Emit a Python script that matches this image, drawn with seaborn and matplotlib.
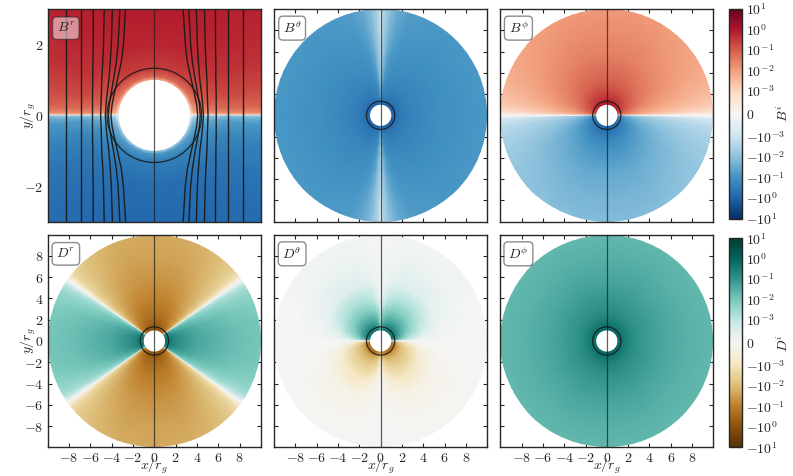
import numpy as np
import matplotlib
matplotlib.use("Agg")
import matplotlib.pyplot as plt
from matplotlib.cm import ScalarMappable
from matplotlib.colors import SymLogNorm
from matplotlib.patches import Circle
import seaborn as sns

# radii and polar angles (deg from +y) that the tables below were read at
br_r = [1.0, 1.1, 1.3, 2, 3, 5]
br_theta = [0, 15, 30, 45, 60, 75, 85, 88, 89, 89.7, 90]
br_upper = [
    [.004, .0039, .0035, .0028, .002, .001, .0005, .0003, .0002, .0001, 0],
    [.07, .068, .06, .05, .035, .018, .006, .0025, .0012, .0004, 0],
    [.27, .26, .234, .19, .135, .07, .023, .0095, .0047, .0014, 0],
    [.62, .6, .54, .44, .31, .16, .054, .022, .011, .0031, 0],
    [.82, .79, .71, .58, .41, .21, .071, .029, .014, .0041, 0],
    [.95, .92, .82, .67, .475, .25, .083, .033, .017, .0048, 0],
]

disk_r = [1, 1.15, 1.35, 1.7, 2.2, 3, 4, 5.5, 7.5, 11]

bth_theta = [0, 1, 3, 6, 10, 16, 25, 35, 50, 70, 90]
bth_upper = [
    [-.3, -.6, -.8, -.9, -1, -1, -1, -1, -1, -1, -1],
    [-.08, -.25, -.5, -.65, -.72, -.78, -.82, -.85, -.85, -.85, -.85],
    [-.02, -.1, -.22, -.35, -.45, -.55, -.6, -.63, -.65, -.65, -.65],
    [-.008, -.05, -.12, -.2, -.28, -.34, -.38, -.4, -.42, -.42, -.42],
    [-.004, -.03, -.08, -.14, -.2, -.25, -.28, -.3, -.3, -.3, -.3],
    [-.002, -.015, -.04, -.1, -.15, -.18, -.2, -.21, -.21, -.21, -.21],
    [-.0014, -.008, -.02, -.06, -.1, -.13, -.145, -.15, -.155, -.155, -.155],
    [-.001, -.005, -.012, -.04, -.075, -.1, -.11, -.115, -.115, -.115, -.115],
    [-.0006, -.003, -.007, -.02, -.045, -.07, -.082, -.087, -.088, -.088, -.088],
    [-.0003, -.0015, -.0045, -.012, -.027, -.05, -.06, -.064, -.065, -.065, -.065],
]

bph_theta = [0, 15, 30, 45, 60, 70, 78, 84, 88, 90]
bph_upper = [
    [1.4, 1.4, 1.3, 1.2, .95, .7, .42, .24, .1, 0],
    [.9, .9, .8, .65, .5, .35, .21, .12, .05, 0],
    [.6, .6, .54, .44, .33, .23, .14, .08, .033, 0],
    [.37, .36, .32, .26, .2, .14, .086, .046, .02, 0],
    [.21, .21, .186, .15, .114, .08, .05, .027, .012, 0],
    [.1, .1, .088, .072, .054, .038, .023, .013, .0055, 0],
    [.06, .06, .054, .044, .033, .023, .014, .0077, .0033, 0],
    [.033, .033, .03, .024, .018, .0126, .0078, .0042, .0018, 0],
    [.02, .02, .018, .0144, .0108, .0076, .0047, .0025, .0011, 0],
    [.011, .011, .0098, .008, .006, .0042, .0026, .0014, .0006, 0],
]

dr_theta = [0, 10, 20, 30, 40, 47, 51, 53, 54.7, 56.5, 58.5, 62, 70, 80, 90]
dr_upper = [
    [-1, -.95, -.85, -.65, -.38, -.2, -.08, -.03, 0, .03, .08, .17, .38, .52, .56],
    [-.85, -.81, -.72, -.55, -.32, -.17, -.068, -.026, 0, .026, .068, .145, .32, .44, .48],
    [-.65, -.62, -.55, -.42, -.25, -.13, -.052, -.02, 0, .02, .052, .11, .25, .34, .36],
    [-.42, -.4, -.36, -.27, -.16, -.084, -.034, -.013, 0, .013, .034, .071, .16, .22, .235],
    [-.24, -.23, -.2, -.156, -.091, -.048, -.019, -.0072, 0, .0072, .019, .041, .091, .125, .134],
    [-.14, -.133, -.119, -.091, -.053, -.028, -.011, -.0042, 0, .0042, .011, .024, .053, .073, .078],
    [-.085, -.081, -.072, -.055, -.032, -.017, -.0068, -.0026, 0, .0026, .0068, .0145, .032, .044, .048],
    [-.05, -.048, -.043, -.033, -.019, -.01, -.004, -.0015, 0, .0015, .004, .0085, .019, .026, .028],
    [-.03, -.029, -.026, -.02, -.0114, -.006, -.0024, -.0009, 0, .0009, .0024, .0051, .0114, .0156, .0168],
    [-.018, -.017, -.015, -.012, -.0068, -.0036, -.0014, -.00054, 0, .00054, .0014, .0031, .0068, .0094, .0101],
]

dth_r = [1, 1.15, 1.35, 1.7, 2, 2.5, 3, 3.5, 4, 5.5, 8, 11]
dth_theta = [0, 4, 10, 20, 30, 45, 60, 75, 85, 90]
dth_upper = [
    [.05, .1, .2, .4, .5, .55, .5, .4, .15, 0],
    [.02, .07, .15, .3, .4, .45, .42, .3, .1, 0],
    [.008, .04, .1, .2, .28, .32, .3, .2, .06, 0],
    [.002, .015, .05, .09, .11, .13, .11, .06, .015, 0],
    [.0008, .01, .03, .045, .055, .06, .05, .025, .005, 0],
    [.0005, .005, .012, .018, .02, .022, .017, .007, .0015, 0],
    [.0003, .002, .005, .008, .009, .01, .007, .003, .0007, 0],
    [.0002, .0008, .002, .0035, .0045, .0045, .003, .0014, .0004, 0],
    [.0001, .0005, .0011, .0018, .002, .002, .0014, .0007, .0002, 0],
    [.00005, .00015, .0003, .0005, .0005, .0005, .0003, .00015, .00005, 0],
    [.00002, .00005, .0001, .00015, .00015, .00012, .00006, .00003, .00001, 0],
    [0, .00002, .00003, .00004, .00004, .00003, .00002, .00001, 0, 0],
]
dth_lower = [
    [-.03, -.06, -.12, -.2, -.3, -.35, -.35, -.3, -.2, 0],
    [-.015, -.035, -.07, -.12, -.18, -.2, -.2, -.18, -.1, 0],
    [-.005, -.012, -.03, -.05, -.07, -.085, -.085, -.07, -.03, 0],
    [-.001, -.003, -.008, -.015, -.02, -.024, -.024, -.018, -.007, 0],
    [-.0004, -.0015, -.004, -.008, -.011, -.012, -.012, -.008, -.003, 0],
    [-.0002, -.0008, -.002, -.0035, -.005, -.0055, -.005, -.003, -.0009, 0],
    [-.00015, -.0005, -.001, -.002, -.0026, -.003, -.0024, -.0014, -.0004, 0],
    [-.0001, -.0003, -.0006, -.0012, -.0015, -.0016, -.0013, -.0007, -.0002, 0],
    [-.00005, -.0002, -.0004, -.0007, -.0009, -.0009, -.0007, -.0004, -.0001, 0],
    [-.00002, -.00008, -.00015, -.00025, -.0003, -.0003, -.0002, -.0001, -.00003, 0],
    [-.00001, -.00002, -.00005, -.00008, -.0001, -.00008, -.00005, -.00002, -.00001, 0],
    [0, -.00001, -.00002, -.00002, -.00002, -.00002, -.00001, -.00001, 0, 0],
]

dph_theta = [0, 15, 30, 45, 60, 75, 90]
dph_upper = [
    [.9, .88, .84, .8, .76, .72, .7],
    [.72, .7, .67, .64, .61, .59, .58],
    [.55, .54, .52, .5, .48, .47, .46],
    [.37, .36, .34, .33, .32, .31, .3],
    [.22, .215, .2, .19, .18, .175, .17],
    [.13, .125, .118, .11, .105, .102, .1],
    [.085, .083, .078, .074, .071, .069, .068],
    [.052, .051, .049, .047, .045, .044, .043],
    [.032, .032, .031, .03, .029, .028, .028],
    [.018, .018, .018, .018, .018, .018, .018],
]

# field lines in the first panel: |x| of each line at these heights above the midplane
line_y = [0, 0.3, 0.6, 1, 1.5, 2, 3]
line_x = [
    [2.49, 2.49, 2.49, 2.49, 2.49, 2.49, 2.49],
    [2.07, 2.07, 2.07, 2.07, 2.07, 2.07, 2.07],
    [1.74, 1.74, 1.74, 1.73, 1.73, 1.72, 1.72],
    [1.51, 1.50, 1.49, 1.48, 1.45, 1.43, 1.41],
    [1.38, 1.36, 1.33, 1.28, 1.24, 1.21, 1.18],
    [1.29, 1.27, 1.22, 1.15, 1.07, 1.02, 0.97],
    [1.22, 1.19, 1.13, 1.04, 0.93, 0.87, 0.81],
]
center_line_x = [0, 0]
center_line_y = [-10, 10]

names = ["$B^r$", r"$B^\theta$", r"$B^\phi$", "$D^r$", r"$D^\theta$", r"$D^\phi$"]
disk_ticks = [-8, -6, -4, -2, 0, 2, 4, 6, 8]
zoom_ticks = [-2, 0, 2]
cbar_ticks = [10, 1, .1, .01, .001, 0, -.001, -.01, -.1, -1, -10]
cbar_labels = ["$10^{1}$", "$10^{0}$", "$10^{-1}$", "$10^{-2}$", "$10^{-3}$", "$0$",
               "$-10^{-3}$", "$-10^{-2}$", "$-10^{-1}$", "$-10^{0}$", "$-10^{1}$"]

sns.set_theme(style="ticks", rc={
    "mathtext.fontset": "cm",
    "font.size": 10,
    "axes.linewidth": 1.0,
    "xtick.direction": "in",
    "ytick.direction": "in",
    "xtick.top": True,
    "ytick.right": True,
    "xtick.major.width": 0.8,
    "ytick.major.width": 0.8,
})

W, H = 793, 476
fig = plt.figure(figsize=(W / 100, H / 100), dpi=100)


def px_axes(left, top, right, bottom):
    return fig.add_axes([left / W, 1 - bottom / H, (right - left) / W, (bottom - top) / H])


def draw_field(ax, r, theta, upper, lower, cmap, norm, rmax):
    r = np.array(r, dtype=float)
    theta = np.array(theta, dtype=float)
    upper = np.array(upper, dtype=float)
    lower = np.array(lower, dtype=float)
    t = np.radians(np.concatenate([theta, 180 - theta[::-1][1:]]))
    vals = np.hstack([upper, lower[:, ::-1][:, 1:]])
    rr, tt = np.meshgrid(r, t, indexing="ij")
    disk = Circle((0, 0), rmax, transform=ax.transData)
    for side in (1, -1):
        mesh = ax.pcolormesh(side * rr * np.sin(tt), rr * np.cos(tt), vals,
                             shading="gouraud", cmap=cmap, norm=norm, zorder=1)
        mesh.set_clip_path(disk)
    ax.add_patch(Circle((0, 0), 1.0, fc="white", ec="none", zorder=2))


def decorate(ax, name, lim, ticks, show_x, show_y):
    sns.lineplot(x=center_line_x, y=center_line_y, sort=False, estimator=None, ax=ax,
                 color="k", lw=0.9, alpha=0.7, zorder=3)
    ax.add_patch(Circle((0, 0), 1.33, fc="none", ec="k", lw=0.9, alpha=0.9, zorder=3))
    ax.set_xlim(-lim, lim)
    ax.set_ylim(-lim, lim)
    ax.set_xticks(ticks)
    ax.set_yticks(ticks)
    labels = [f"${v}$" for v in ticks]
    ax.set_xticklabels(labels if show_x else [])
    ax.set_yticklabels(labels if show_y else [])
    ax.set_xlabel("$x/r_g$" if show_x else "", fontsize=10, labelpad=-6)
    ax.set_ylabel("$y/r_g$" if show_y else "", fontsize=10, labelpad=-10)
    ax.tick_params(labelsize=10, length=3, pad=3)
    ax.text(0.085, 0.91, name, transform=ax.transAxes, fontsize=10, ha="center", va="center",
            zorder=5, bbox=dict(boxstyle="round,pad=0.3", fc="white", ec="k", lw=1, alpha=0.5))


def add_cbar(left, top, right, bottom, cmap, norm, label):
    cax = px_axes(left, top, right, bottom)
    cb = fig.colorbar(ScalarMappable(norm=norm, cmap=cmap), cax=cax)
    cb.set_ticks(cbar_ticks)
    cb.set_ticklabels(cbar_labels)
    cb.ax.minorticks_off()
    cb.ax.tick_params(labelsize=10, length=3, width=0.8, direction="in", pad=3, right=True, left=False)
    cb.outline.set_linewidth(1.0)
    cb.set_label(label, fontsize=10, labelpad=-7)


norm = SymLogNorm(linthresh=1e-3, linscale=1, vmin=-10, vmax=10, base=10)
cmap_b = sns.color_palette("RdBu_r", as_cmap=True)
cmap_d = sns.color_palette("BrBG", as_cmap=True)

cols = [(47.7, 261), (274, 487.3), (500.3, 713.3)]
rows = [(9, 221.7), (234.7, 447.3)]

fields = [
    (br_r, br_theta, br_upper, -np.array(br_upper), cmap_b, 5),
    (disk_r, bth_theta, bth_upper, bth_upper, cmap_b, 10),
    (disk_r, bph_theta, bph_upper, -np.array(bph_upper), cmap_b, 10),
    (disk_r, dr_theta, dr_upper, dr_upper, cmap_d, 10),
    (dth_r, dth_theta, dth_upper, dth_lower, cmap_d, 10),
    (disk_r, dph_theta, dph_upper, dph_upper, cmap_d, 10),
]

for i, (r, theta, upper, lower, cmap, rmax) in enumerate(fields):
    row, col = divmod(i, 3)
    ax = px_axes(cols[col][0], rows[row][0], cols[col][1], rows[row][1])
    draw_field(ax, r, theta, upper, lower, cmap, norm, rmax)
    if i == 0:
        for line in line_x:
            ys = np.concatenate([-np.array(line_y[::-1]), line_y[1:]])
            xs = np.concatenate([line[::-1], line[1:]])
            for side in (1, -1):
                sns.lineplot(x=side * xs, y=ys, sort=False, estimator=None, ax=ax,
                             color="k", lw=1.0, alpha=0.95, zorder=3)
        decorate(ax, names[i], 3, zoom_ticks, False, True)
    else:
        decorate(ax, names[i], 10, disk_ticks, row == 1, col == 0)

add_cbar(729.3, 9, 742, 218.7, cmap_b, norm, "$B^i$")
add_cbar(729.3, 238.3, 742, 447.3, cmap_d, norm, "$D^i$")

fig.savefig("out.png", dpi=100)
